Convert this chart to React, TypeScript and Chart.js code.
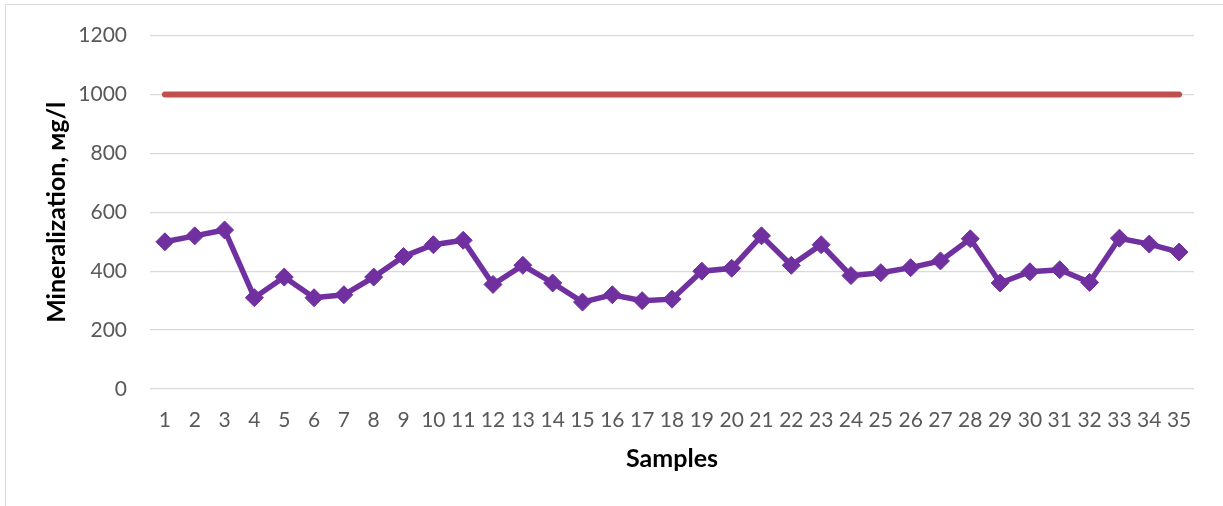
import React, { useEffect, useRef } from "react";
import { Chart, registerables } from "chart.js";

Chart.register(...registerables);

const samples: string[] = Array.from({ length: 35 }, (_, i) => String(i + 1));
const mineralization: number[] = [
  500, 520, 540, 310, 380, 310, 320, 380, 450, 490,
  505, 355, 420, 360, 295, 320, 300, 305, 400, 410,
  520, 420, 490, 385, 395, 412, 435, 510, 360, 398,
  405, 362, 512, 492, 465,
];
const limitValue = 1000;
const limitLine: number[] = samples.map(() => limitValue);
const yTicks: number[] = [0, 200, 400, 600, 800, 1000, 1200];

const FONT = "Lato, 'Open Sans', sans-serif";

export default function App() {
  const ref = useRef<HTMLCanvasElement | null>(null);

  useEffect(() => {
    document.body.style.margin = "0";
    if (!ref.current) return;
    const chart = new Chart(ref.current, {
      type: "line",
      data: {
        labels: samples,
        datasets: [
          {
            label: "Limit",
            data: limitLine,
            borderColor: "#C0504D",
            backgroundColor: "#C0504D",
            borderWidth: 6,
            borderCapStyle: "round",
            pointRadius: 0,
            pointHoverRadius: 0,
            tension: 0,
          },
          {
            label: "Mineralization",
            data: mineralization,
            borderColor: "#7030A0",
            backgroundColor: "#7030A0",
            borderWidth: 5.5,
            pointStyle: "rectRot",
            pointRadius: 9,
            pointBorderWidth: 1,
            pointBorderColor: "#7030A0",
            pointBackgroundColor: "#7030A0",
            tension: 0,
          },
        ],
      },
      options: {
        animation: false,
        responsive: false,
        maintainAspectRatio: false,
        layout: { padding: { left: 30, right: 29, top: 32, bottom: 0 } },
        plugins: {
          legend: { display: false },
          tooltip: { enabled: false },
        },
        scales: {
          x: {
            type: "category",
            offset: true,
            grid: { display: false, drawTicks: false },
            border: { display: false },
            ticks: {
              color: "#595959",
              font: { family: FONT, size: 21 },
              padding: 19,
              maxRotation: 0,
              autoSkip: false,
            },
            title: {
              display: true,
              text: "Samples",
              color: "#000000",
              font: { family: FONT, size: 25, weight: "bold" },
              padding: { top: 0, bottom: 32 },
            },
            afterFit: (scale: any) => {
              scale.height = 117;
            },
          },
          y: {
            min: 0,
            max: 1200,
            afterBuildTicks: (scale: any) => {
              scale.ticks = yTicks.map((v) => ({ value: v }));
            },
            grid: { color: "#D9D9D9", lineWidth: 1.3, drawTicks: false },
            border: { display: false },
            ticks: {
              color: "#595959",
              font: { family: FONT, size: 21 },
              padding: 23,
              callback: (v: any) => String(v),
            },
            title: {
              display: true,
              text: "Mineralization, мg/l",
              color: "#000000",
              font: { family: FONT, size: 25, weight: "bold" },
              padding: { top: 12, bottom: 0 },
            },
            afterFit: (scale: any) => {
              scale.width = 120;
            },
          },
        },
      },
    });
    return () => chart.destroy();
  }, []);

  return (
    <div style={{ position: "relative", width: 1223, height: 506, background: "#fff" }}>
      <div
        style={{
          position: "absolute",
          left: 5,
          top: 4,
          width: 1230,
          height: 520,
          border: "1px solid #D9D9D9",
          boxSizing: "border-box",
        }}
      />
      <canvas
        ref={ref}
        width={1223}
        height={506}
        style={{ position: "absolute", left: 0, top: 0, width: 1223, height: 506 }}
      />
    </div>
  );
}
